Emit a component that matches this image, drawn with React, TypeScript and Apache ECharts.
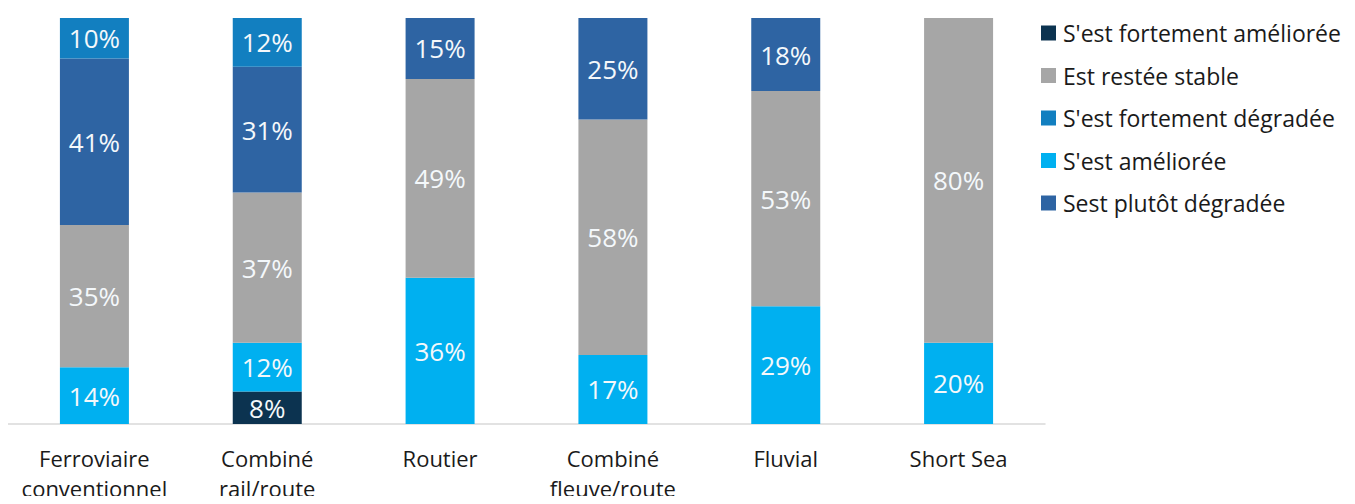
import React, { useEffect, useRef } from "react";
import * as echarts from "echarts";

// Categories (transport modes)
const categories = [
  "Ferroviaire\nconventionnel",
  "Combiné\nrail/route",
  "Routier",
  "Combiné\nfleuve/route",
  "Fluvial",
  "Short Sea",
];

// Shares (%) per answer, stacked from bottom to top
const fortementAmelioree = [0, 8, 0, 0, 0, 0];
const amelioree = [14, 12, 36, 17, 29, 20];
const stable = [35, 37, 49, 58, 53, 80];
const plutotDegradee = [41, 31, 15, 25, 18, 0];
const fortementDegradee = [10, 12, 0, 0, 0, 0];

const legendOrder = [
  "S'est fortement améliorée",
  "Est restée stable",
  "S'est fortement dégradée",
  "S'est améliorée",
  "Sest plutôt dégradée",
];

const FONT = '"Open Sans", "Noto Sans", sans-serif';

export default function App() {
  const ref = useRef<HTMLDivElement>(null);

  useEffect(() => {
    if (!ref.current) return;
    const chart = echarts.init(ref.current, undefined, { renderer: "svg" });

    const mk = (name: string, data: number[], color: string) => ({
      name,
      type: "bar",
      stack: "total",
      data,
      barWidth: 69,
      itemStyle: { color },
      label: {
        show: true,
        position: "inside",
        color: "#f4f8fb",
        fontFamily: FONT,
        fontSize: 26,
        formatter: (p: any) => (p.value ? `${p.value}%` : ""),
      },
    });

    chart.setOption({
      animation: false,
      textStyle: { fontFamily: FONT },
      grid: {
        left: 0,
        right: 302,
        top: 10,
        bottom: 80,
        containLabel: false,
        outerBoundsMode: "none",
      },
      legend: {
        orient: "vertical",
        left: 1033,
        top: 13.5,
        padding: 0,
        itemWidth: 15,
        itemHeight: 15,
        itemGap: 19.5,
        icon: "rect",
        data: legendOrder,
        textStyle: {
          fontFamily: FONT,
          fontSize: 23,
          color: "#1a1a1a",
          lineHeight: 23,
          padding: [0, 0, 0, 2],
        },
      },
      xAxis: {
        type: "category",
        data: categories,
        axisLine: { show: true, lineStyle: { color: "#d9d9d9", width: 1.5 } },
        axisTick: { show: false },
        axisLabel: {
          color: "#1a1a1a",
          fontFamily: FONT,
          fontSize: 22,
          lineHeight: 30,
          margin: 19,
          interval: 0,
        },
      },
      yAxis: {
        type: "value",
        min: 0,
        max: 100,
        show: false,
      },
      series: [
        mk("S'est fortement améliorée", fortementAmelioree, "#0c3350"),
        mk("S'est améliorée", amelioree, "#00b0f0"),
        mk("Est restée stable", stable, "#a6a6a6"),
        mk("Sest plutôt dégradée", plutotDegradee, "#2e64a3"),
        mk("S'est fortement dégradée", fortementDegradee, "#127fc0"),
      ],
    });

    return () => chart.dispose();
  }, []);

  return <div ref={ref} style={{ width: 1339, height: 496, marginBottom: -8 }} />;
}
